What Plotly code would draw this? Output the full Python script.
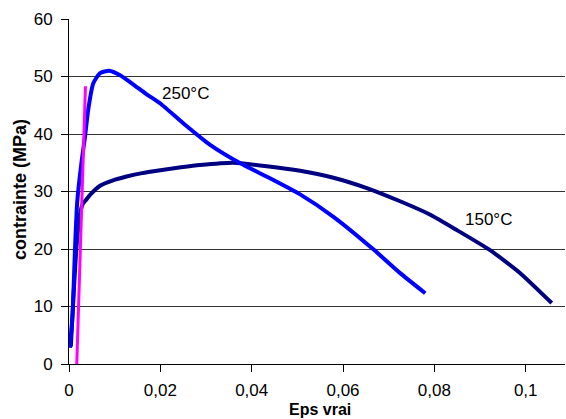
import plotly.graph_objects as go

# strain / stress curves
eps_150 = [0.0004, 0.001, 0.0017, 0.0024, 0.003, 0.0038, 0.0046, 0.0068, 0.0095, 0.0126, 0.016, 0.02, 0.0245, 0.0287,
           0.036, 0.0433, 0.0506, 0.0579, 0.0652, 0.0725, 0.079, 0.0849, 0.0922, 0.0988, 0.1057]
sig_150 = [3, 12, 21, 26, 27.8, 28.6, 29.4, 31.0, 31.9, 32.6, 33.2, 33.7, 34.2, 34.6,
           35.0, 34.4, 33.6, 32.4, 30.6, 28.3, 26.0, 23.3, 19.8, 15.8, 10.6]

eps_250 = [0.0002, 0.0008, 0.0013, 0.0018, 0.0028, 0.0035, 0.0042, 0.0053, 0.0068, 0.0088, 0.0112,
           0.0141, 0.017, 0.02, 0.0254, 0.0309, 0.0375, 0.044, 0.0506, 0.0579, 0.0667, 0.0725, 0.078]
sig_250 = [2.8, 8.9, 19.8, 28.2, 35.5, 39.5, 44.2, 48.8, 50.6, 51.0, 50.2,
           48.6, 46.9, 45.3, 41.6, 38.1, 34.9, 32.3, 29.5, 25.6, 19.9, 15.8, 12.3]

eps_lin = [0.0017, 0.0036]
sig_lin = [0, 48.3]

x_ticks = [0, 0.02, 0.04, 0.06, 0.08, 0.1]
y_ticks = [0, 10, 20, 30, 40, 50, 60]

FONT = 'Arial, Liberation Sans, sans-serif'

fig = go.Figure()
fig.add_trace(go.Scatter(x=eps_150, y=sig_150, mode='lines',
                         line=dict(color='#000080', width=4, shape='spline', smoothing=0.5)))
fig.add_trace(go.Scatter(x=eps_250, y=sig_250, mode='lines',
                         line=dict(color='#0000FF', width=4, shape='spline', smoothing=0.5)))
fig.add_trace(go.Scatter(x=eps_lin, y=sig_lin, mode='lines',
                         line=dict(color='#FF00FF', width=3)))

fig.add_annotation(x=0.02, y=47, text='250°C', showarrow=False,
                   xanchor='left', yanchor='middle', font=dict(size=17, color='#000'))
fig.add_annotation(x=0.0862, y=25.2, text='150°C', showarrow=False,
                   xanchor='left', yanchor='middle', font=dict(size=17, color='#000'))

# axis titles as annotations so they can sit as tight as in the original
fig.add_annotation(x=0.506, y=0, xref='paper', yref='paper', yshift=-55,
                   text='<b>Eps vrai</b>', showarrow=False, borderpad=0,
                   xanchor='center', yanchor='bottom', font=dict(size=16, color='#000'))
fig.add_annotation(x=0, y=0.504, xref='paper', yref='paper', xshift=-49,
                   text='<b>contrainte (MPa)</b>', showarrow=False, textangle=-90,
                   xanchor='center', yanchor='middle', font=dict(size=18, color='#000'))

fig.update_layout(
    width=566, height=419,
    margin=dict(l=69, r=1, t=19, b=55),
    plot_bgcolor='white', paper_bgcolor='white',
    showlegend=False,
    separators=', ',
    font=dict(family=FONT, size=17, color='#000'),
)
fig.update_xaxes(range=[0, 0.1086], tickvals=x_ticks, showgrid=False, zeroline=False,
                 showline=True, linecolor='#000', linewidth=1,
                 ticks='outside', ticklen=7, tickcolor='#000', ticklabelstandoff=4)
fig.update_yaxes(range=[0, 60], tickvals=y_ticks, showgrid=True, gridcolor='#333', gridwidth=1,
                 zeroline=False, showline=True, linecolor='#000', linewidth=1,
                 ticks='outside', ticklen=7, tickcolor='#000', ticklabelstandoff=5)

# page body has a default margin; drop it so the figure fills the window
fig.write_html("out.html", config={'displayModeBar': False},
               post_script="document.body.style.margin='0';")
